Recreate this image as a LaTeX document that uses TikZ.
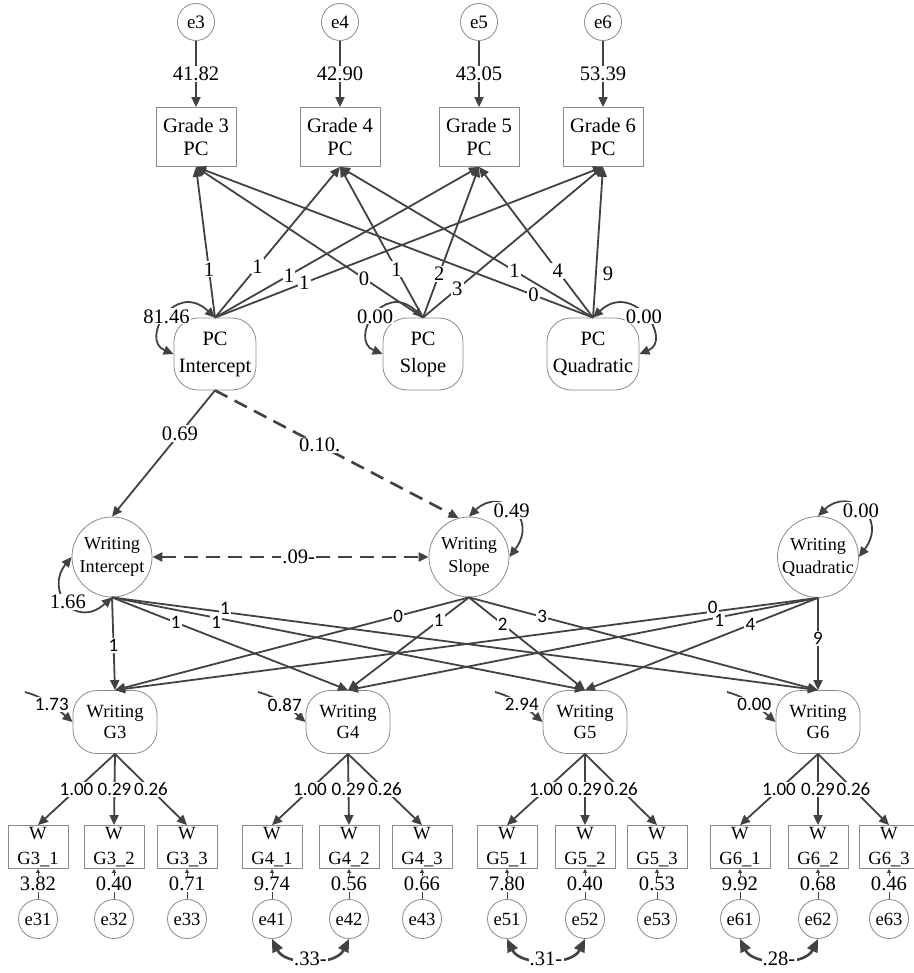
\documentclass[tikz,border=0pt]{standalone}
\usepackage{fontspec}
\setmainfont{Liberation Serif}
\newfontfamily\labsans{Carlito}
\usetikzlibrary{arrows.meta,calc}

\definecolor{arrgray}{HTML}{424242}
\definecolor{framegray}{HTML}{8A8A8A}

\tikzset{
  obsbox/.style={draw=framegray, line width=0.4pt, minimum width=40pt, minimum height=29.5pt, inner sep=0pt, align=center, font=\fontsize{10.3}{11.5}\selectfont},
  itembox/.style={draw=framegray, line width=0.4pt, minimum width=30pt, minimum height=21.5pt, inner sep=0pt, align=center, font=\fontsize{9.3}{12.5}\selectfont},
  latbox/.style={draw=framegray, line width=0.4pt, rounded corners=12pt, minimum width=41pt, minimum height=36pt, inner sep=0pt, align=center, font=\fontsize{10.2}{13.5}\selectfont},
  gradelat/.style={latbox, minimum width=42pt, minimum height=31.5pt, font=\fontsize{9.3}{10.5}\selectfont},
  growth/.style={draw=framegray, line width=0.4pt, circle, minimum size=40pt, inner sep=0pt, align=center, font=\fontsize{9.1}{11.5}\selectfont},
  err/.style={draw=framegray, line width=0.4pt, circle, minimum size=18.5pt, inner sep=0pt, font=\fontsize{9.5}{10}\selectfont},
  loadarr/.style={draw=arrgray, line width=0.9pt, -{Triangle[length=5pt,width=4.5pt]}},
  dashload/.style={loadarr, line width=1.3pt, dash pattern=on 7pt off 4pt},
  vararr/.style={draw=arrgray, line width=0.9pt, {Triangle[length=5pt,width=4.5pt]}-{Triangle[length=5pt,width=4.5pt]}},
  covarr/.style={draw=arrgray, line width=1.3pt, {Triangle[length=6.5pt,width=5.5pt]}-{Triangle[length=6.5pt,width=5.5pt]}},
  tinyarr/.style={draw=arrgray, line width=0.5pt, -{Triangle[length=2pt,width=2pt]}},
  lab/.style={fill=white, inner sep=0.6pt, font=\fontsize{10.3}{11}\selectfont},
  slab/.style={fill=white, inner sep=0.6pt, font=\labsans\fontsize{9.5}{10}\selectfont},
}

\begin{document}
\begin{tikzpicture}[x=0.5pt, y=-0.5pt]
\useasboundingbox (0,0) rectangle (914,973);

% Errors of the PC scores
\node[err] (e3) at (196,22) {e3};
\node[err] (e4) at (340,22) {e4};
\node[err] (e5) at (479,22) {e5};
\node[err] (e6) at (603,22) {e6};

% PC scores
\node[obsbox] (g3) at (196,137) {Grade 3\\PC};
\node[obsbox] (g4) at (340,137) {Grade 4\\PC};
\node[obsbox] (g5) at (479,137) {Grade 5\\PC};
\node[obsbox] (g6) at (603,137) {Grade 6\\PC};

\draw[loadarr] (e3.south) -- (g3.north) node[lab,midway] {41.82};
\draw[loadarr] (e4.south) -- (g4.north) node[lab,midway] {42.90};
\draw[loadarr] (e5.south) -- (g5.north) node[lab,midway] {43.05};
\draw[loadarr] (e6.south) -- (g6.north) node[lab,midway] {53.39};

% PC growth factors
\node[latbox] (pci) at (215,354) {PC\\Intercept};
\node[latbox, minimum width=40pt] (pcs) at (423,354) {PC\\Slope};
\node[latbox, minimum width=46pt] (pcq) at (593,354) {PC\\Quadratic};

\draw[vararr] (pci.west) .. controls +(-34,-14) and +(-40,-38) .. (pci.north) node[lab,pos=.5] {81.46};
\draw[vararr] (pcs.west) .. controls +(-34,-14) and +(-40,-38) .. (pcs.north) node[lab,pos=.5] {0.00};
\draw[vararr] (pcq.east) .. controls +(34,-14) and +(40,-38) .. (pcq.north) node[lab,pos=.5] {0.00};

% PC loadings
\draw[loadarr] (pci.north) -- (g3.south) node[lab,pos=.32] {1};
\draw[loadarr] (pci.north) -- (g4.south) node[lab,pos=.34] {1};
\draw[loadarr] (pci.north) -- (g5.south) node[lab,pos=.28] {1};
\draw[loadarr] (pci.north) -- (g6.south) node[lab,pos=.23] {1};
\draw[loadarr] (pcs.north) -- (g3.south) node[lab,pos=.26] {0};
\draw[loadarr] (pcs.north) -- (g4.south) node[lab,pos=.32] {1};
\draw[loadarr] (pcs.north) -- (g5.south) node[lab,pos=.29] {2};
\draw[loadarr] (pcs.north) -- (g6.south) node[lab,pos=.19] {3};
\draw[loadarr] (pcq.north) -- (g3.south) node[lab,pos=.15] {0};
\draw[loadarr] (pcq.north) -- (g4.south) node[lab,pos=.31] {1};
\draw[loadarr] (pcq.north) -- (g5.south) node[lab,pos=.31] {4};
\draw[loadarr] (pcq.north) -- (g6.south) node[pos=.29, right, inner sep=3pt, font=\fontsize{10.3}{11}\selectfont] {9};

% Writing growth factors
\node[growth] (wi) at (112,557) {Writing\\Intercept};
\node[growth] (ws) at (469,557) {Writing\\Slope};
\node[growth] (wq) at (818,557) {Writing\\Quadratic};

\draw[loadarr] (pci.south) -- (wi.north) node[lab,pos=.34] {0.69};
\draw[dashload] (pci.south) -- (ws.105) node[lab,pos=.43] {0.10.};
\draw[dashload, {Triangle[length=5pt,width=4.5pt]}-{Triangle[length=5pt,width=4.5pt]}] (wi.east) -- (ws.west) node[lab,pos=.53] {.09-};

\draw[vararr] (wi.west) .. controls +(-27,33) and +(-37,33) .. (wi.south) node[lab,pos=.5] {1.66};
\draw[vararr] (ws.north) .. controls +(30,-30) and +(30,-40) .. (ws.east) node[lab,pos=.5] {0.49};
\draw[vararr] (wq.north) .. controls +(30,-30) and +(30,-40) .. (wq.east) node[lab,pos=.5] {0.00};

% Writing by grade
\node[gradelat] (wg3) at (115,722) {Writing\\G3};
\node[gradelat] (wg4) at (348,722) {Writing\\G4};
\node[gradelat] (wg5) at (585,722) {Writing\\G5};
\node[gradelat] (wg6) at (818,722) {Writing\\G6};

\draw[loadarr] (wi.south) -- (wg3.north) node[slab,pos=.52] {1};
\draw[loadarr] (wi.south) -- (wg4.north) node[slab,pos=.27] {1};
\draw[loadarr] (wi.south) -- (wg5.north) node[slab,pos=.22, yshift=-2.5pt] {1};
\draw[loadarr] (wi.south) -- (wg6.north) node[slab,pos=.16, yshift=2pt] {1};
\draw[loadarr] (ws.south) -- (wg3.north) node[slab,pos=.2] {0};
\draw[loadarr] (ws.south) -- (wg4.north) node[slab,pos=.25] {1};
\draw[loadarr] (ws.south) -- (wg5.north) node[slab,pos=.29] {2};
\draw[loadarr] (ws.south) -- (wg6.north) node[slab,pos=.21] {3};
\draw[loadarr] (wq.south) -- (wg3.north) node[slab,pos=.15, yshift=2pt] {0};
\draw[loadarr] (wq.south) -- (wg4.north) node[slab,pos=.21, yshift=-1.5pt] {1};
\draw[loadarr] (wq.south) -- (wg5.north) node[slab,pos=.29] {4};
\draw[loadarr] (wq.south) -- (wg6.north) node[slab,pos=.44] {9};

% Disturbances
\coordinate (d3) at (25,692);
\coordinate (d4) at (258,692);
\coordinate (d5) at (495,692);
\coordinate (d6) at (727,692);
\draw[loadarr] (d3) .. controls +(22,6) and +(-14,-12) .. (wg3.west) node[slab,pos=.5] {1.73};
\draw[loadarr] (d4) .. controls +(22,6) and +(-14,-12) .. (wg4.west) node[slab,pos=.5] {0.87};
\draw[loadarr] (d5) .. controls +(22,6) and +(-14,-12) .. (wg5.west) node[slab,pos=.5] {2.94};
\draw[loadarr] (d6) .. controls +(22,6) and +(-14,-12) .. (wg6.west) node[slab,pos=.5] {0.00};

% Writing items
\node[itembox] (w31) at (38,847) {W\\G3\_1};
\node[itembox] (w32) at (114,847) {W\\G3\_2};
\node[itembox] (w33) at (187,847) {W\\G3\_3};
\node[itembox] (w41) at (272,847) {W\\G4\_1};
\node[itembox] (w42) at (349,847) {W\\G4\_2};
\node[itembox] (w43) at (422,847) {W\\G4\_3};
\node[itembox] (w51) at (507,847) {W\\G5\_1};
\node[itembox] (w52) at (585,847) {W\\G5\_2};
\node[itembox] (w53) at (657,847) {W\\G5\_3};
\node[itembox] (w61) at (740,847) {W\\G6\_1};
\node[itembox] (w62) at (818,847) {W\\G6\_2};
\node[itembox] (w63) at (889,847) {W\\G6\_3};

\draw[loadarr] (wg3.south) -- (w31.north) node[slab,midway] {1.00};
\draw[loadarr] (wg3.south) -- (w32.north) node[slab,midway] {0.29};
\draw[loadarr] (wg3.south) -- (w33.north) node[slab,midway] {0.26};
\draw[loadarr] (wg4.south) -- (w41.north) node[slab,midway] {1.00};
\draw[loadarr] (wg4.south) -- (w42.north) node[slab,midway] {0.29};
\draw[loadarr] (wg4.south) -- (w43.north) node[slab,midway] {0.26};
\draw[loadarr] (wg5.south) -- (w51.north) node[slab,midway] {1.00};
\draw[loadarr] (wg5.south) -- (w52.north) node[slab,midway] {0.29};
\draw[loadarr] (wg5.south) -- (w53.north) node[slab,midway] {0.26};
\draw[loadarr] (wg6.south) -- (w61.north) node[slab,midway] {1.00};
\draw[loadarr] (wg6.south) -- (w62.north) node[slab,midway] {0.29};
\draw[loadarr] (wg6.south) -- (w63.north) node[slab,midway] {0.26};

% Item errors
\node[err, minimum size=19.5pt, font=\fontsize{9.3}{10}\selectfont] (e31) at (38,919) {e31};
\node[err, minimum size=19.5pt, font=\fontsize{9.3}{10}\selectfont] (e32) at (114,919) {e32};
\node[err, minimum size=19.5pt, font=\fontsize{9.3}{10}\selectfont] (e33) at (187,919) {e33};
\node[err, minimum size=19.5pt, font=\fontsize{9.3}{10}\selectfont] (e41) at (272,919) {e41};
\node[err, minimum size=19.5pt, font=\fontsize{9.3}{10}\selectfont] (e42) at (349,919) {e42};
\node[err, minimum size=19.5pt, font=\fontsize{9.3}{10}\selectfont] (e43) at (422,919) {e43};
\node[err, minimum size=19.5pt, font=\fontsize{9.3}{10}\selectfont] (e51) at (507,919) {e51};
\node[err, minimum size=19.5pt, font=\fontsize{9.3}{10}\selectfont] (e52) at (585,919) {e52};
\node[err, minimum size=19.5pt, font=\fontsize{9.3}{10}\selectfont] (e53) at (657,919) {e53};
\node[err, minimum size=19.5pt, font=\fontsize{9.3}{10}\selectfont] (e61) at (740,919) {e61};
\node[err, minimum size=19.5pt, font=\fontsize{9.3}{10}\selectfont] (e62) at (818,919) {e62};
\node[err, minimum size=19.5pt, font=\fontsize{9.3}{10}\selectfont] (e63) at (889,919) {e63};

\draw[tinyarr] (e31.north) -- (w31.south) node[lab,midway] {3.82};
\draw[tinyarr] (e32.north) -- (w32.south) node[lab,midway] {0.40};
\draw[tinyarr] (e33.north) -- (w33.south) node[lab,midway] {0.71};
\draw[tinyarr] (e41.north) -- (w41.south) node[lab,midway] {9.74};
\draw[tinyarr] (e42.north) -- (w42.south) node[lab,midway] {0.56};
\draw[tinyarr] (e43.north) -- (w43.south) node[lab,midway] {0.66};
\draw[tinyarr] (e51.north) -- (w51.south) node[lab,midway] {7.80};
\draw[tinyarr] (e52.north) -- (w52.south) node[lab,midway] {0.40};
\draw[tinyarr] (e53.north) -- (w53.south) node[lab,midway] {0.53};
\draw[tinyarr] (e61.north) -- (w61.south) node[lab,midway] {9.92};
\draw[tinyarr] (e62.north) -- (w62.south) node[lab,midway] {0.68};
\draw[tinyarr] (e63.north) -- (w63.south) node[lab,midway] {0.46};

% Error covariances
\draw[covarr] (e41.south) .. controls +(13,27) and +(-13,27) .. (e42.south) node[lab,pos=.5] {.33-};
\draw[covarr] (e51.south) .. controls +(13,27) and +(-13,27) .. (e52.south) node[lab,pos=.5] {.31-};
\draw[covarr] (e61.south) .. controls +(13,27) and +(-13,27) .. (e62.south) node[lab,pos=.5] {.28-};

\end{tikzpicture}
\end{document}
